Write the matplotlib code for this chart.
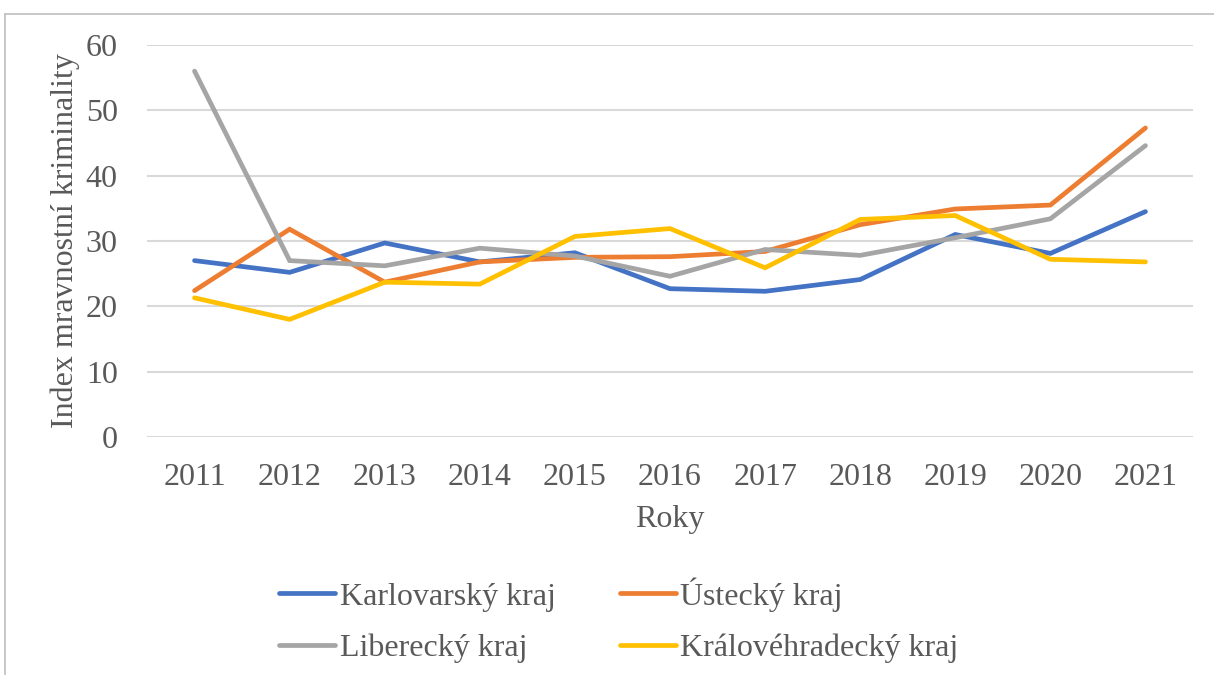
import matplotlib
matplotlib.use('Agg')
import matplotlib.pyplot as plt
from matplotlib.lines import Line2D

# Data
years = ['2011', '2012', '2013', '2014', '2015', '2016', '2017', '2018', '2019', '2020', '2021']
karlovarsky = [27.0, 25.2, 29.7, 26.8, 28.2, 22.7, 22.3, 24.1, 31.0, 28.1, 34.5]
ustecky = [22.4, 31.8, 23.7, 26.8, 27.5, 27.6, 28.4, 32.5, 34.9, 35.5, 47.3]
liberecky = [56.0, 27.0, 26.2, 28.9, 27.7, 24.6, 28.7, 27.8, 30.5, 33.4, 44.6]
kralovehradecky = [21.3, 18.0, 23.7, 23.4, 30.7, 31.9, 25.9, 33.3, 33.9, 27.2, 26.8]

labels = ['Karlovarský kraj', 'Ústecký kraj', 'Liberecký kraj', 'Královéhradecký kraj']
colors = ['#4472C4', '#ED7D31', '#A5A5A5', '#FFC000']

plt.rcParams['font.family'] = ['Liberation Serif', 'DejaVu Serif']
text_color = '#595959'
fs = 23

fig = plt.figure(figsize=(12.14, 6.75), dpi=100)
ax = fig.add_axes([147 / 1214, 1 - 437 / 675, (1193 - 147) / 1214, (437 - 45) / 675])

x = list(range(len(years)))
series = [karlovarsky, ustecky, liberecky, kralovehradecky]
for vals, col, lab in zip(series, colors, labels):
    ax.plot(x, vals, color=col, linewidth=3.4, label=lab, solid_capstyle='round',
            solid_joinstyle='miter')

ax.set_xlim(-0.5, len(years) - 0.5)
ax.set_ylim(0, 60)
ax.set_yticks(range(0, 61, 10))
ax.set_xticks(x)
ax.set_xticklabels(years)
ax.grid(axis='y', color='#D9D9D9', linewidth=1.5)
ax.set_axisbelow(True)
for s in ax.spines.values():
    s.set_visible(False)
ax.tick_params(axis='both', length=0, labelsize=fs, colors=text_color)
ax.tick_params(axis='y', pad=21)
ax.tick_params(axis='x', pad=19)

ax.set_xlabel('Roky', fontsize=fs, color=text_color)
ax.xaxis.set_label_coords(0.5, -(505 - 437) / 392)
ax.set_ylabel('Index mravnostní kriminality', fontsize=fs, color=text_color)
ax.yaxis.set_label_coords(-(147 - 80) / 1046, 0.5)

# legend in 2 columns, filled row-wise like the reference
handles = [Line2D([], [], color=c, linewidth=3.4, solid_capstyle='round') for c in colors]
order = [0, 2, 1, 3]
leg = fig.legend([handles[i] for i in order], [labels[i] for i in order], ncol=2,
                 loc='center', bbox_to_anchor=(619 / 1214, 1 - 620 / 675),
                 frameon=False, fontsize=fs, handlelength=1.75, handletextpad=0.15,
                 columnspacing=2.0, labelspacing=0.68)
for t in leg.get_texts():
    t.set_color(text_color)

# outer chart border (top and left edges visible)
fig.add_artist(Line2D([5 / 1214, 1], [1 - 14 / 675, 1 - 14 / 675], color='#BFBFBF', linewidth=1.2))
fig.add_artist(Line2D([5 / 1214, 5 / 1214], [0, 1 - 14 / 675], color='#BFBFBF', linewidth=1.2))

fig.savefig('out.png', dpi=100)
